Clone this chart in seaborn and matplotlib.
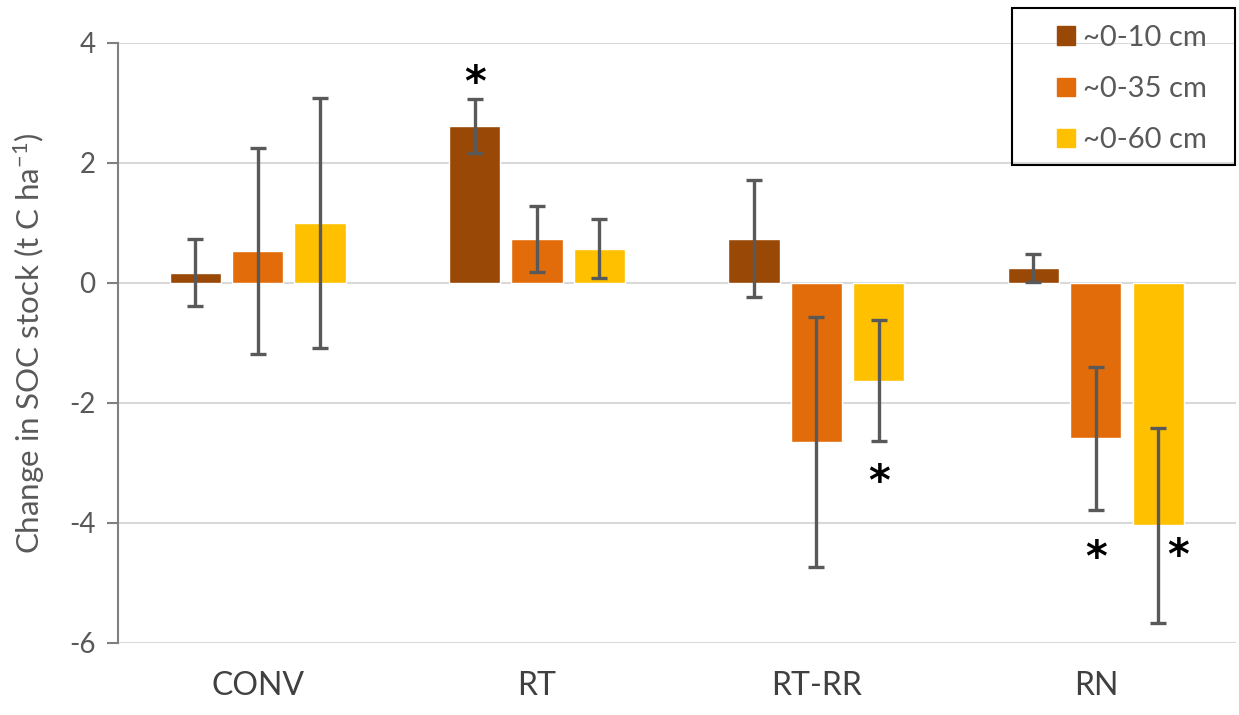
import numpy as np
import pandas as pd
import matplotlib
matplotlib.use("Agg")
import matplotlib.pyplot as plt
import seaborn as sns

# data
treatments = ["CONV", "RT", "RT-RR", "RN"]
depths = ["~0-10 cm", "~0-35 cm", "~0-60 cm"]
change_0_10 = [0.17, 2.62, 0.74, 0.25]
change_0_35 = [0.53, 0.73, -2.65, -2.59]
change_0_60 = [1.00, 0.57, -1.63, -4.04]
err_0_10 = [0.56, 0.45, 0.98, 0.23]
err_0_35 = [1.72, 0.55, 2.08, 1.19]
err_0_60 = [2.08, 0.49, 1.01, 1.62]
# significance stars: (treatment, depth, y position)
stars = [("RT", "~0-10 cm", 3.32), ("RT-RR", "~0-60 cm", -3.33),
         ("RN", "~0-35 cm", -4.6), ("RN", "~0-60 cm", -4.56)]

rows = []
for vals, errs, d in [(change_0_10, err_0_10, depths[0]),
                      (change_0_35, err_0_35, depths[1]),
                      (change_0_60, err_0_60, depths[2])]:
    for t, v, e in zip(treatments, vals, errs):
        rows.append({"Treatment": t, "Depth": d, "Change": v, "Err": e})
df = pd.DataFrame(rows)

sns.set_theme(style="white")
plt.rcParams["font.family"] = ["Lato", "DejaVu Sans"]
plt.rcParams["mathtext.default"] = "regular"
plt.rcParams["axes.unicode_minus"] = False

palette = {"~0-10 cm": "#9A4806", "~0-35 cm": "#E36C0A", "~0-60 cm": "#FFC000"}

fig = plt.figure(figsize=(12.39, 7.15), dpi=100)
ax = fig.add_axes([0.0952, 0.1007, 0.902, 0.8393])

sns.barplot(data=df, x="Treatment", y="Change", hue="Depth", order=treatments,
            hue_order=depths, palette=palette, errorbar=None, width=0.67,
            gap=0.18, saturation=1, ax=ax, legend=False, zorder=2)

# error bars and stars at the bar centres
centres = {}
for i, d in enumerate(depths):
    for j, t in enumerate(treatments):
        p = ax.patches[i * len(treatments) + j]
        centres[(t, d)] = p.get_x() + p.get_width() / 2
for _, r in df.iterrows():
    x = centres[(r["Treatment"], r["Depth"])]
    ax.errorbar(x, r["Change"], yerr=r["Err"], fmt="none", ecolor="#595959",
                elinewidth=2.4, capsize=5.5, capthick=2.4, zorder=3)
for t, d, yv in stars:
    dx = 0.07 if (t, d) == ("RN", "~0-60 cm") else 0
    ax.text(centres[(t, d)] + dx, yv, "*", ha="center", va="center",
            fontsize=30, fontweight="bold", color="black", family="DejaVu Sans")

ax.set_ylim(-6, 4)
ax.set_xlim(-0.5, 3.5)
ax.set_yticks([-6, -4, -2, 0, 2, 4])
ax.yaxis.grid(True, color="#d9d9d9", linewidth=1.5, zorder=0)
ax.set_axisbelow(True)
for s in ["top", "right", "bottom"]:
    ax.spines[s].set_visible(False)
ax.spines["left"].set_color("#808080")
ax.spines["left"].set_linewidth(1.5)
ax.tick_params(axis="y", left=True, length=8, width=1.5, color="#808080",
               labelsize=20, labelcolor="#595959", pad=8)
ax.tick_params(axis="x", bottom=False, labelsize=23, labelcolor="#404040", pad=14)
ax.set_xlabel("")
ax.set_ylabel("Change in SOC stock (t C ha$^{-1}$)", fontsize=22.5, color="#595959")
ax.yaxis.set_label_coords(-0.0635, 0.5)

# legend: frame drawn separately so the padding can match the reference
fig.patches.append(plt.Rectangle((0.8168, 0.7692), 0.18, 0.2196,
                                 transform=fig.transFigure, fill=False,
                                 edgecolor="black", linewidth=1.5, zorder=5))
handles = [plt.Rectangle((0, 0), 1, 1, color=palette[d]) for d in depths]
leg = fig.legend(handles, depths, loc="upper left",
                 bbox_to_anchor=(1057 / 1239, 1 - 25 / 715), fontsize=21,
                 frameon=False, handlelength=0.6, handleheight=0.6,
                 labelspacing=0.86, borderpad=0, handletextpad=0.3,
                 borderaxespad=0)
for txt in leg.get_texts():
    txt.set_color("#595959")

fig.savefig("out.png", dpi=100)
